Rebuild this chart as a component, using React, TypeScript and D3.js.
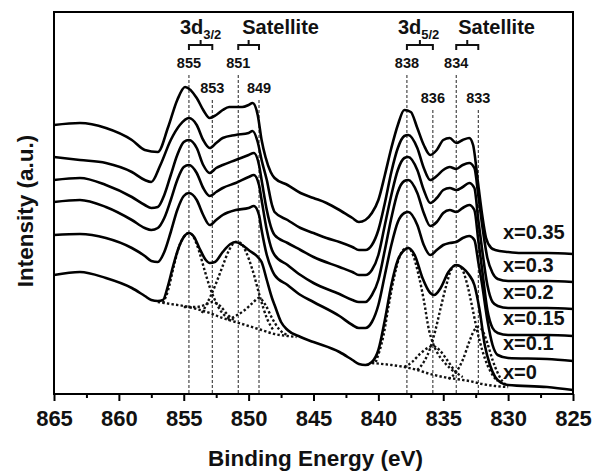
import { useEffect, useRef } from "react";
import * as d3 from "d3";

const WIDTH = 592;
const HEIGHT = 471;
const MARGIN = { top: 12, right: 19, bottom: 77, left: 54 };
const FONT = "Arial, 'Liberation Sans', sans-serif";

const X_TICKS = [865, 860, 855, 850, 845, 840, 835, 830, 825];
const X_MINOR = [862.5, 857.5, 852.5, 847.5, 842.5, 837.5, 832.5, 827.5];

const SAMPLE_LABELS = ["x=0.35", "x=0.3", "x=0.2", "x=0.15", "x=0.1", "x=0"];
// label baseline intensity (a.u.)
const SAMPLE_LABEL_LEVEL = [155, 122, 95, 69, 44, 15];

// peak markers: where the dashed line sits, what is written, and how high the line starts
const PEAK_POS = [854.6, 852.8, 850.8, 849.2, 837.8, 835.8, 834.0, 832.3];
const PEAK_TEXT = ["855", "853", "851", "849", "838", "836", "834", "833"];
const PEAK_ROW = [0, 1, 0, 1, 0, 2, 0, 2];

// [binding energy (eV), intensity (a.u.)]
const SPEC_035: [number, number][] = [
  [865, 269], [863, 271], [861, 266], [859, 254], [858, 244], [857, 242], [856.2, 267],
  [855.5, 294], [854.9, 307], [854, 296], [853.5, 284], [853, 276], [852.5, 279], [852, 284],
  [851.5, 287], [851, 287], [850.5, 287], [850, 289], [849.7, 291], [849.3, 279], [849, 254],
  [848.7, 237], [848.3, 222], [848, 216], [847, 209], [846, 201], [845, 196], [844, 191],
  [843, 184], [842, 176], [841.5, 172], [841, 174], [840.5, 181], [840, 194], [839.5, 219],
  [839, 246], [838.5, 269], [838, 284], [837.5, 282], [837, 266], [836.5, 249], [836, 239],
  [835.5, 244], [835, 254], [834.5, 256], [834, 251], [833.5, 254], [833, 256], [832.7, 249],
  [832.3, 209], [832, 179], [831.7, 156], [831.3, 146], [831, 144], [830, 142], [829, 141],
  [827, 141], [825, 140],
];
const SPEC_030: [number, number][] = [
  [865, 237], [863, 234], [861, 231], [859, 222], [858, 214], [857.5, 212], [856.8, 229],
  [856, 254], [855.3, 269], [854.6, 276], [854, 269], [853.5, 254], [853, 246], [852.5, 251],
  [852, 256], [851, 259], [850, 261], [849.7, 263], [849.3, 252], [849, 234], [848.6, 214],
  [848.2, 189], [848, 182], [847, 174], [846, 166], [845, 161], [844, 156], [843, 152],
  [842, 147], [841.5, 144], [841, 144], [840.5, 149], [840, 164], [839.5, 191], [839, 222],
  [838.5, 246], [838, 258], [837.7, 259], [837, 246], [836.5, 226], [836, 214], [835.5, 218],
  [835, 224], [834.5, 227], [834, 225], [833.5, 229], [833, 231], [832.6, 226], [832.3, 199],
  [832, 169], [831.6, 136], [831.2, 121], [830.8, 115], [830, 113], [827, 113], [825, 112],
];
const SPEC_020: [number, number][] = [
  [865, 214], [863, 216], [861, 209], [859, 197], [858, 189], [857.5, 186], [857, 187],
  [856.5, 199], [856, 219], [855.5, 239], [855, 252], [854.6, 254], [854, 246], [853.5, 229],
  [853, 221], [852.5, 226], [852, 229], [851, 234], [850, 239], [849.6, 241], [849.2, 229],
  [849, 214], [848.6, 184], [848.2, 164], [848, 159], [847, 151], [846, 144], [845, 137],
  [843, 127], [842, 122], [841.5, 119], [841, 119], [840.5, 124], [840, 139], [839.5, 169],
  [839, 199], [838.5, 224], [838, 236], [837.7, 237], [837, 224], [836.5, 204], [836, 191],
  [835.5, 196], [835, 204], [834.5, 206], [834, 204], [833.5, 207], [833, 211], [832.6, 206],
  [832.3, 174], [832, 144], [831.6, 109], [831.2, 92], [830.8, 88], [830, 86], [827, 86],
  [825, 85],
];
const SPEC_015: [number, number][] = [
  [865, 192], [863, 194], [861, 187], [859, 174], [858, 166], [857.5, 164], [857, 166],
  [856.5, 176], [856, 194], [855.5, 214], [855, 227], [854.6, 229], [854, 221], [853.5, 206],
  [853, 198], [852.5, 202], [852, 206], [851, 211], [850, 217], [849.6, 219], [849.2, 209],
  [849, 194], [848.6, 164], [848.2, 144], [848, 139], [847, 129], [846, 119], [845, 111],
  [843, 100], [842, 94], [841.5, 92], [841, 92], [840.5, 99], [840, 114], [839.5, 144],
  [839, 176], [838.5, 202], [838, 213], [837.7, 214], [837, 201], [836.5, 181], [836, 168],
  [835.5, 172], [835, 181], [834.5, 184], [834, 182], [833.5, 186], [833, 189], [832.6, 184],
  [832.3, 154], [832, 124], [831.6, 84], [831.2, 66], [830.8, 61], [830, 59], [827, 59],
  [825, 58],
];
const SPEC_010: [number, number][] = [
  [865, 159], [863, 160], [861, 156], [859, 146], [858, 138], [857.5, 133], [857, 132],
  [856.5, 142], [856, 162], [855.5, 184], [855, 198], [854.6, 201], [854, 194], [853.5, 179],
  [853, 169], [852.5, 174], [852, 179], [851, 184], [850, 186], [849.6, 188], [849.2, 179],
  [849, 164], [848.6, 139], [848.2, 124], [848, 119], [847, 109], [846, 99], [845, 92],
  [843, 78], [842, 69], [841.5, 66], [841, 66], [840.5, 72], [840, 89], [839.5, 119],
  [839, 149], [838.5, 172], [838, 181], [837.7, 182], [837, 169], [836.5, 149], [836, 139],
  [835.5, 144], [835, 149], [834.5, 151], [834, 152], [833.5, 156], [833, 158], [832.6, 154],
  [832.3, 132], [832, 109], [831.6, 74], [831.2, 49], [830.8, 39], [830, 36], [827, 35],
  [825, 33],
];
const SPEC_000: [number, number][] = [
  [865, 119], [863, 122], [861, 116], [859, 106], [858, 98], [857.5, 94], [857, 93],
  [856.6, 94], [856.2, 109], [855.8, 129], [855.4, 146], [855, 157], [854.6, 161], [854.2, 157],
  [853.8, 146], [853.3, 134], [853, 131], [852.6, 132], [852, 142], [851.4, 150], [851, 152],
  [850.5, 149], [850, 144], [849.3, 137], [849, 132], [848.6, 114], [848.2, 96], [848, 89],
  [847.5, 72], [847, 64], [846, 57], [845, 52], [843, 42], [842, 34], [841.5, 30], [841, 29],
  [840.5, 32], [840, 44], [839.5, 74], [839, 109], [838.5, 134], [838, 144], [837.7, 146],
  [837.2, 139], [836.6, 116], [836, 101], [835.7, 99], [835.2, 106], [834.6, 122], [834, 129],
  [833.5, 126], [833, 119], [832.6, 109], [832.2, 84], [831.8, 49], [831.4, 29], [831, 17],
  [830.5, 11], [830, 9], [827, 7], [825, 4],
];

// fitted components of the x=0 spectrum (dotted)
const FIT_BG_32: [number, number][] = [
  [857, 92], [856, 90], [855, 88], [854, 85], [853, 81], [852, 76], [851, 72], [850, 68],
  [849, 64], [848, 60], [847, 58], [846.3, 57],
];
const FIT_855: [number, number][] = [
  [856.6, 91], [856.2, 104], [855.8, 126], [855.4, 146], [855, 157], [854.6, 161], [854.2, 156],
  [853.8, 142], [853.4, 124], [853, 107], [852.6, 94], [852.2, 84], [851.8, 78], [851.4, 75],
];
const FIT_853: [number, number][] = [
  [855, 87], [854, 87], [853.4, 89], [852.8, 92], [852.2, 88], [851.6, 79], [851, 73],
];
const FIT_851: [number, number][] = [
  [853.6, 81], [853, 96], [852.5, 111], [852, 128], [851.5, 144], [851, 152], [850.6, 151],
  [850.2, 142], [849.7, 124], [849.1, 96], [848.6, 76], [848.1, 64],
];
const FIT_849: [number, number][] = [
  [851.6, 74], [851, 78], [850.3, 84], [849.7, 91], [849.2, 96], [848.7, 89], [848.2, 76],
  [847.6, 64], [847, 59],
];
const FIT_BG_52: [number, number][] = [
  [840.5, 31], [839, 29], [838, 27], [837, 24], [836, 20], [835, 17], [834, 15], [833, 13],
  [832, 10], [831, 8], [830, 7],
];
const FIT_838: [number, number][] = [
  [840.2, 32], [839.6, 59], [839.2, 89], [838.8, 116], [838.4, 136], [838, 145], [837.7, 146],
  [837.3, 138], [836.9, 119], [836.5, 94], [836.1, 64], [835.8, 51], [835.4, 40], [835, 33],
  [834.5, 26], [834, 21],
];
const FIT_836: [number, number][] = [
  [838, 27], [837.4, 32], [836.8, 40], [836.2, 46], [835.8, 48], [835.3, 44], [834.7, 34],
  [834.1, 23], [833.5, 17],
];
const FIT_834: [number, number][] = [
  [837, 24], [836.5, 32], [836, 46], [835.6, 64], [835.2, 86], [834.8, 107], [834.4, 124],
  [834, 129], [833.6, 126], [833.2, 112], [832.8, 89], [832.4, 64], [832, 44], [831.6, 29],
  [831.2, 19], [830.8, 13],
];
const FIT_833: [number, number][] = [
  [834.6, 15], [834, 22], [833.5, 34], [833, 52], [832.6, 64], [832.3, 67], [832, 64],
  [831.6, 51], [831.2, 34], [830.8, 21], [830.4, 12], [830, 8],
];

const SPECTRA = [SPEC_035, SPEC_030, SPEC_020, SPEC_015, SPEC_010, SPEC_000];
const FITS = [FIT_BG_32, FIT_855, FIT_853, FIT_851, FIT_849, FIT_BG_52, FIT_838, FIT_836, FIT_834, FIT_833];

export default function App() {
  const svgRef = useRef<SVGSVGElement>(null);

  useEffect(() => {
    const svg = d3.select(svgRef.current);
    svg.selectAll("*").remove();

    const left = MARGIN.left;
    const right = WIDTH - MARGIN.right;
    const top = MARGIN.top;
    const bottom = HEIGHT - MARGIN.bottom;

    const x = d3.scaleLinear().domain([865, 825]).range([left, right]);
    const y = d3.scaleLinear().domain([0, 382]).range([bottom, top]);

    svg.append("rect").attr("width", WIDTH).attr("height", HEIGHT).attr("fill", "#ffffff");

    const line = d3
      .line<[number, number]>()
      .x((d) => x(d[0]))
      .y((d) => y(d[1]))
      .curve(d3.curveMonotoneX);

    // peak marker lines
    const rowTop = [75, 100, 110];
    const rowText = [68, 93, 103];
    PEAK_POS.forEach((pos, i) => {
      svg
        .append("line")
        .attr("x1", x(pos))
        .attr("x2", x(pos))
        .attr("y1", rowTop[PEAK_ROW[i]])
        .attr("y2", bottom)
        .attr("stroke", "#222")
        .attr("stroke-width", 1)
        .attr("stroke-dasharray", "3 2");

      svg
        .append("text")
        .attr("x", x(pos))
        .attr("y", rowText[PEAK_ROW[i]])
        .attr("text-anchor", "middle")
        .attr("font-family", FONT)
        .attr("font-weight", 700)
        .attr("font-size", 14.5)
        .attr("fill", "#111")
        .text(PEAK_TEXT[i]);
    });

    // brackets over the peak pairs
    [[0, 1], [2, 3], [4, 5], [6, 7]].forEach(([a, b]) => {
      const x1 = x(PEAK_POS[a]);
      const x2 = x(PEAK_POS[b]);
      const mid = (x1 + x2) / 2;
      svg
        .append("path")
        .attr("d", `M${x1},50 V45 H${x2} V50 M${mid},45 V40`)
        .attr("fill", "none")
        .attr("stroke", "#111")
        .attr("stroke-width", 2);
    });

    const heading = (xPos: number, main: string, sub: string) => {
      const t = svg
        .append("text")
        .attr("x", xPos)
        .attr("y", 34)
        .attr("font-family", FONT)
        .attr("font-weight", 700)
        .attr("font-size", 20)
        .attr("fill", "#111");
      t.append("tspan").text(main);
      if (sub) {
        t.append("tspan").attr("font-size", 13).attr("dy", 5).text(sub);
      }
    };
    heading(x(PEAK_POS[0]) - 9, "3d", "3/2");
    heading(x(PEAK_POS[2]) + 4, "Satellite", "");
    heading(x(PEAK_POS[4]) - 9, "3d", "5/2");
    heading(x(PEAK_POS[6]) + 2, "Satellite", "");

    // fitted components
    FITS.forEach((fit) => {
      svg
        .append("path")
        .attr("d", line(fit))
        .attr("fill", "none")
        .attr("stroke", "#111")
        .attr("stroke-width", 2.4)
        .attr("stroke-dasharray", "2.4 2.2");
    });

    // spectra
    SPECTRA.forEach((spec) => {
      svg
        .append("path")
        .attr("d", line(spec))
        .attr("fill", "none")
        .attr("stroke", "#000")
        .attr("stroke-width", 2.6)
        .attr("stroke-linejoin", "round");
    });

    SAMPLE_LABELS.forEach((label, i) => {
      svg
        .append("text")
        .attr("x", 503)
        .attr("y", y(SAMPLE_LABEL_LEVEL[i]))
        .attr("font-family", FONT)
        .attr("font-weight", 700)
        .attr("font-size", 20)
        .attr("fill", "#111")
        .text(label);
    });

    // axes
    svg
      .append("g")
      .attr("transform", `translate(0, ${bottom})`)
      .call(d3.axisBottom(x).tickValues(X_MINOR).tickSize(4).tickFormat(() => ""))
      .call((g) => g.select(".domain").remove())
      .call((g) => g.selectAll("line").attr("stroke", "#000").attr("stroke-width", 2));

    svg
      .append("g")
      .attr("transform", `translate(0, ${bottom})`)
      .call(d3.axisBottom(x).tickValues(X_TICKS).tickSize(7).tickPadding(9).tickFormat(d3.format("d")))
      .call((g) => g.select(".domain").remove())
      .call((g) => g.selectAll("line").attr("stroke", "#000").attr("stroke-width", 2))
      .call((g) =>
        g
          .selectAll("text")
          .attr("fill", "#111")
          .attr("font-family", FONT)
          .attr("font-weight", 700)
          .attr("font-size", 22)
      );

    svg
      .append("rect")
      .attr("x", left)
      .attr("y", top)
      .attr("width", right - left)
      .attr("height", bottom - top)
      .attr("fill", "none")
      .attr("stroke", "#000")
      .attr("stroke-width", 2);

    svg
      .append("text")
      .attr("x", (left + right) / 2 + 2)
      .attr("y", 466)
      .attr("text-anchor", "middle")
      .attr("font-family", FONT)
      .attr("font-weight", 700)
      .attr("font-size", 22.5)
      .attr("fill", "#111")
      .text("Binding Energy (eV)");

    svg
      .append("text")
      .attr("transform", `translate(33, ${(top + bottom) / 2 + 8}) rotate(-90)`)
      .attr("text-anchor", "middle")
      .attr("font-family", FONT)
      .attr("font-weight", 700)
      .attr("font-size", 22.5)
      .attr("fill", "#111")
      .text("Intensity (a.u.)");
  }, []);

  return (
    <svg
      ref={svgRef}
      width={WIDTH}
      height={HEIGHT}
      style={{ position: "absolute", left: 0, top: 0, display: "block" }}
    />
  );
}
